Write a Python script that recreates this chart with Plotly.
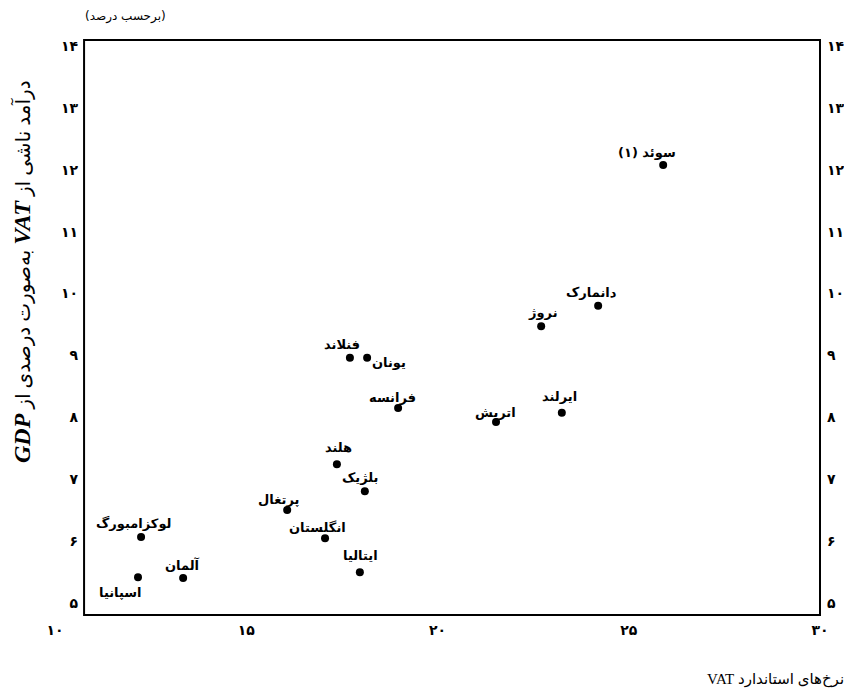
import plotly.graph_objects as go

# ---- data ----
countries = ["سوئد (۱)", "دانمارک", "نروژ", "فنلاند", "یونان", "فرانسه", "اتریش",
             "ایرلند", "هلند", "بلژیک", "پرتغال", "انگلستان", "ایتالیا",
             "لوکزامبورگ", "آلمان", "اسپانیا"]
vat_rate = [25.90, 24.20, 22.71, 17.71, 18.16, 18.97, 21.53,
            23.25, 17.37, 18.10, 16.07, 17.06, 17.97,
            12.25, 13.35, 12.17]
vat_revenue_gdp = [12.08, 9.80, 9.47, 8.96, 8.96, 8.15, 7.92,
                   8.07, 7.24, 6.80, 6.50, 6.04, 5.49,
                   6.06, 5.40, 5.41]

x_ticks = [10, 15, 20, 25, 30]
x_tick_labels = ["۱۰", "۱۵", "۲۰", "۲۵", "۳۰"]
y_ticks = [5, 6, 7, 8, 9, 10, 11, 12, 13, 14]
y_tick_labels = ["۵", "۶", "۷", "۸", "۹", "۱۰", "۱۱", "۱۲", "۱۳", "۱۴"]

# ---- label placement (pixel offsets from each dot; styling only) ----
label_offsets = {
    "سوئد (۱)": (-16, -12), "دانمارک": (-7, -13), "نروژ": (2, -14),
    "فنلاند": (-8, -13), "یونان": (22, 5), "فرانسه": (-6, -10),
    "اتریش": (-1, -10), "ایرلند": (-2, -16), "هلند": (2, -17),
    "بلژیک": (-5, -14), "پرتغال": (-9, -10), "انگلستان": (-8, -11),
    "ایتالیا": (1, -17), "لوکزامبورگ": (-8, -14), "آلمان": (-1, -13),
    "اسپانیا": (-18, 15),
}

RLE, PDF = "\u202b", "\u202c"
def rtl(s):
    return RLE + s + PDF

FONT = "DejaVu Sans"

# page body has an 8px default margin: size the figure so it fits the 852x695 window
OFF = 8
W, H = 852 - OFF, 695 - OFF
L = 55 - OFF
T = 40 - OFF
B = H - (615 - OFF)
R = W - (845 - OFF)
pw = W - L - R
ph = H - T - B

def px_x(p):
    return (p - OFF - L) / pw

def px_y(p):
    return (H - B - (p - OFF)) / ph

fig = go.Figure()
fig.add_trace(go.Scatter(
    x=vat_rate, y=vat_revenue_gdp, mode="markers",
    marker=dict(color="black", size=8),
    hoverinfo="skip", showlegend=False,
))
# invisible trace to carry the right-hand axis
fig.add_trace(go.Scatter(
    x=[vat_rate[0]], y=[vat_revenue_gdp[0]], mode="markers",
    marker=dict(opacity=0, size=1), yaxis="y2", hoverinfo="skip", showlegend=False,
))

for c, xv, yv in zip(countries, vat_rate, vat_revenue_gdp):
    dx, dy = label_offsets[c]
    fig.add_annotation(
        x=xv, y=yv, xref="x", yref="y", text=rtl(c), showarrow=False,
        xshift=dx, yshift=-dy, xanchor="center", yanchor="middle",
        font=dict(family=FONT, size=13, color="black", weight="bold"),
    )

# plot frame
fig.add_shape(type="rect", xref="x", yref="paper", x0=10.76, x1=30.0, y0=0, y1=1,
              line=dict(color="black", width=2), layer="above")

fig.add_annotation(
    xref="paper", yref="paper", x=px_x(22), y=px_y(272),
    xanchor="center", yanchor="middle",
    text=rtl("درآمد ناشی از <b><i><span style='font-size:24px'>VAT</span></i></b>"
             " به‌صورت درصدی از <b><i><span style='font-size:24px'>GDP</span></i></b>"),
    textangle=-90, showarrow=False,
    font=dict(family="Liberation Serif, DejaVu Sans", size=20, color="black"),
)
fig.add_annotation(
    xref="paper", yref="paper", x=px_x(125), y=px_y(16),
    xanchor="center", yanchor="middle",
    text=rtl("(برحسب درصد)"), showarrow=False,
    font=dict(family=FONT, size=12, color="black"),
)
fig.add_annotation(
    xref="paper", yref="paper", x=px_x(846), y=px_y(679),
    xanchor="right", yanchor="middle",
    text=rtl("نرخ‌های استاندارد VAT"), showarrow=False,
    font=dict(family="Liberation Serif, DejaVu Sans", size=15, color="black"),
)

tickfont = dict(family=FONT, size=14, color="black", weight="bold")
fig.update_layout(
    width=W, height=H,
    margin=dict(l=L, r=R, t=T, b=B, autoexpand=False),
    paper_bgcolor="white", plot_bgcolor="white",
    xaxis=dict(range=[10, 10 + pw / 38.25], tickvals=x_ticks, ticktext=x_tick_labels,
               showgrid=False, zeroline=False, showline=False, ticks="",
               ticklabelstandoff=5, tickfont=tickfont, fixedrange=True,
               automargin=False),
    yaxis=dict(range=[4.80, 14.10], tickvals=y_ticks, ticktext=y_tick_labels,
               showgrid=False, zeroline=False, showline=False, ticks="",
               anchor="free", position=px_x(78), side="left",
               tickfont=tickfont, fixedrange=True, automargin=False),
    yaxis2=dict(range=[4.80, 14.10], tickvals=y_ticks, ticktext=y_tick_labels,
                showgrid=False, zeroline=False, showline=False, ticks="",
                overlaying="y", anchor="free", position=px_x(826), side="right",
                tickfont=tickfont, fixedrange=True, automargin=False),
    showlegend=False,
)

fig.write_html("out.html")
